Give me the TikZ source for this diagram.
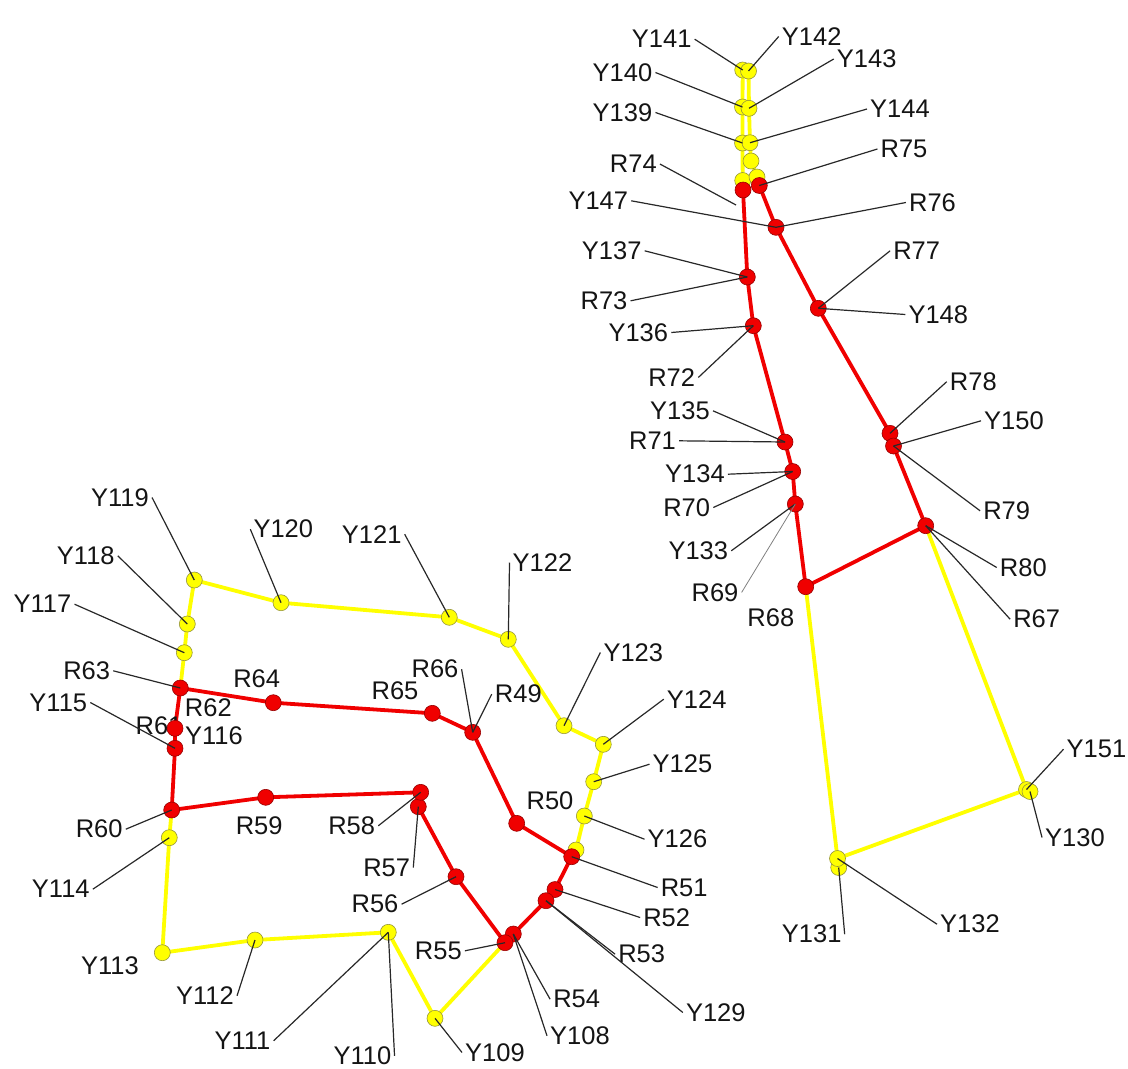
\documentclass[tikz,border=0pt]{standalone}
\usepackage{fontspec}
\setmainfont{Liberation Sans}
\pgfdeclarelayer{bg}
\pgfdeclarelayer{lab}
\pgfsetlayers{bg,lab,main}
\definecolor{ylw}{RGB}{255,255,0}
\definecolor{yout}{RGB}{150,150,60}
\definecolor{rd}{RGB}{240,0,0}
\definecolor{rout}{RGB}{150,0,0}
\definecolor{ldr}{RGB}{40,40,40}
\definecolor{txt}{RGB}{20,20,20}
\begin{document}
\begin{tikzpicture}[x=1pt,y=-1pt,
 ydot/.style={circle,fill=ylw,draw=yout,line width=0.6pt,minimum size=16pt,inner sep=0pt},
 rdot/.style={circle,fill=rd,draw=rout,line width=0.6pt,minimum size=16pt,inner sep=0pt},
 lbl/.style={font=\fontsize{25.5}{30}\selectfont,text=txt,inner sep=3pt},
 yl/.style={draw=ylw,line width=3.8pt,line join=round},
 rl/.style={draw=rd,line width=3.8pt,line join=round},
 lead/.style={draw=ldr,line width=1.2pt}]
\useasboundingbox (0,0) rectangle (1128,1069);
% ---------- yellow dots ----------
\node[ydot] (Y141) at (742.7,70) {};
\node[ydot] (Y142) at (748.5,71) {};
\node[ydot] (Y140) at (742.5,107) {};
\node[ydot] (Y143) at (749,108.3) {};
\node[ydot] (Y139) at (742.5,143) {};
\node[ydot] (Y144) at (750,142.7) {};
\node[ydot] (Ya) at (751,161) {};
\node[ydot] (Yb) at (742.7,180.5) {};
\node[ydot] (Yc) at (757,177) {};
\node[ydot] (Y151) at (1026.5,789.5) {};
\node[ydot] (Y130) at (1030,791.5) {};
\node[ydot] (Y131) at (838.7,867.5) {};
\node[ydot] (Y132) at (837.5,858.5) {};
\node[ydot] (Y119) at (194.3,580) {};
\node[ydot] (Y120) at (281,602.7) {};
\node[ydot] (Y121) at (449.3,617.3) {};
\node[ydot] (Y122) at (508.3,639.3) {};
\node[ydot] (Y123) at (564,725.7) {};
\node[ydot] (Y124) at (603.3,744.3) {};
\node[ydot] (Y125) at (593.7,781.7) {};
\node[ydot] (Y126) at (584.3,816) {};
\node[ydot] (Yd) at (576,850) {};
\node[ydot] (Y118) at (187.3,624) {};
\node[ydot] (Y117) at (184.3,652.7) {};
\node[ydot] (Y114) at (169.3,837.7) {};
\node[ydot] (Y113) at (162.3,952.7) {};
\node[ydot] (Y112) at (255,940) {};
\node[ydot] (Y110) at (388.3,932.3) {};
\node[ydot] (Y109) at (435,1018.3) {};
% ---------- red dots ----------
\node[rdot] (R74) at (743,190) {};
\node[rdot] (R75) at (759.3,185.5) {};
\node[rdot] (R76) at (776,227.3) {};
\node[rdot] (R73) at (747.3,277) {};
\node[rdot] (R77) at (818.3,308.3) {};
\node[rdot] (R72) at (753.3,325.7) {};
\node[rdot] (R71) at (785,442) {};
\node[rdot] (R70) at (792.7,471.5) {};
\node[rdot] (R69) at (795.3,504) {};
\node[rdot] (R68) at (805.7,586.7) {};
\node[rdot] (R78) at (890,433.3) {};
\node[rdot] (R79) at (893.5,446) {};
\node[rdot] (R80) at (925.7,525.7) {};
\node[rdot] (R63) at (180.3,688) {};
\node[rdot] (R64) at (273.3,702.7) {};
\node[rdot] (R65) at (432.3,713.3) {};
\node[rdot] (R66) at (472.7,732.3) {};
\node[rdot] (R50) at (516.7,823.3) {};
\node[rdot] (R51) at (571.7,856.7) {};
\node[rdot] (R52) at (555,889.5) {};
\node[rdot] (R53) at (546,900.7) {};
\node[rdot] (R54) at (513.3,934) {};
\node[rdot] (R55) at (505,942.7) {};
\node[rdot] (R56) at (456,876.7) {};
\node[rdot] (R57) at (418.3,806.7) {};
\node[rdot] (R58) at (420.7,792.3) {};
\node[rdot] (R59) at (265.7,797.3) {};
\node[rdot] (R60) at (171.7,810) {};
\node[rdot] (R61) at (175,728.3) {};
\node[rdot] (R62) at (175,748.3) {};
% coincident points
\coordinate (Y147) at (R76.center);
\coordinate (Y137) at (R73.center);
\coordinate (Y148) at (R77.center);
\coordinate (Y136) at (R72.center);
\coordinate (Y135) at (R71.center);
\coordinate (Y134) at (R70.center);
\coordinate (Y133) at (R69.center);
\coordinate (Y150) at (R79.center);
\coordinate (R67) at (R80.center);
\coordinate (R49) at (R66.center);
\coordinate (Y129) at (R53.center);
\coordinate (Y108) at (R54.center);
\coordinate (Y111) at (Y110.center);
\coordinate (Y115) at (R62.center);
\coordinate (R74end) at (736,205);
% ---------- lines ----------
\begin{pgfonlayer}{bg}
\draw[yl] (Y141.center) -- (Y140.center) -- (Y139.center) -- (Yb.center);
\draw[yl] (Y142.center) -- (Y143.center) -- (Y144.center) -- (Ya.center) -- (Yc.center);
\draw[rl] (R74.center) -- (R73.center) -- (R72.center) -- (R71.center) -- (R70.center) -- (R69.center) -- (R68.center) -- (R80.center) -- (R79.center) -- (R78.center) -- (R77.center) -- (R76.center) -- (R75.center);
\draw[yl] (R68.center) -- (Y132.center) -- (Y151.center) -- (R80.center);
\draw[yl] (R63.center) -- (Y117.center) -- (Y118.center) -- (Y119.center) -- (Y120.center) -- (Y121.center) -- (Y122.center) -- (Y123.center) -- (Y124.center) -- (Y125.center) -- (Y126.center) -- (Yd.center) -- (R51.center);
\draw[yl] (R60.center) -- (Y114.center) -- (Y113.center) -- (Y112.center) -- (Y110.center) -- (Y109.center) -- (R55.center);
\draw[rl] (R63.center) -- (R64.center) -- (R65.center) -- (R66.center) -- (R50.center) -- (R51.center) -- (R52.center) -- (R53.center) -- (R54.center) -- (R55.center) -- (R56.center) -- (R57.center) -- (R58.center) -- (R59.center) -- (R60.center) -- (R62.center) -- (R61.center) -- (R63.center);
\end{pgfonlayer}
% ---------- labels ----------
\begin{pgfonlayer}{lab}
\node[lbl] (lY141) at (661.7,39.2) {Y141};
\node[lbl] (lY142) at (811.7,36.5) {Y142};
\node[lbl] (lY140) at (622.5,72.5) {Y140};
\node[lbl] (lY143) at (866.7,59) {Y143};
\node[lbl] (lY139) at (622.5,112.5) {Y139};
\node[lbl] (lY144) at (900,109) {Y144};
\node[lbl] (lR74) at (633.3,164) {R74};
\node[lbl] (lR75) at (904,149) {R75};
\node[lbl] (lY147) at (598.3,200.8) {Y147};
\node[lbl] (lR76) at (932.5,202.5) {R76};
\node[lbl] (lY137) at (611.7,250.8) {Y137};
\node[lbl] (lR73) at (604,300.8) {R73};
\node[lbl] (lR77) at (916.7,250.8) {R77};
\node[lbl] (lY148) at (938.3,314.5) {Y148};
\node[lbl] (lY136) at (638.3,332.5) {Y136};
\node[lbl] (lR72) at (671.7,377.5) {R72};
\node[lbl] (lY135) at (680,410.8) {Y135};
\node[lbl] (lR71) at (652.5,440.8) {R71};
\node[lbl] (lY134) at (695,474.2) {Y134};
\node[lbl] (lR70) at (686.7,507.5) {R70};
\node[lbl] (lY133) at (698.3,550.8) {Y133};
\node[lbl] (lR69) at (715,592.5) {R69};
\node[lbl] (lR68) at (770.8,617.5) {R68};
\node[lbl] (lR78) at (973.3,381.7) {R78};
\node[lbl] (lY150) at (1014,420.8) {Y150};
\node[lbl] (lR79) at (1006.7,510.8) {R79};
\node[lbl] (lR80) at (1023.3,567.5) {R80};
\node[lbl] (lR67) at (1036.7,619.2) {R67};
\node[lbl] (lY151) at (1096.5,749.2) {Y151};
\node[lbl] (lY130) at (1075,837.5) {Y130};
\node[lbl] (lY131) at (811.7,934.2) {Y131};
\node[lbl] (lY132) at (970,924.2) {Y132};
\node[lbl] (lY119) at (120,497.5) {Y119};
\node[lbl] (lY120) at (283.3,529.2) {Y120};
\node[lbl] (lY118) at (85.8,555.8) {Y118};
\node[lbl] (lY117) at (42.5,604.2) {Y117};
\node[lbl] (lR63) at (86.7,670.8) {R63};
\node[lbl] (lR64) at (256.7,679.2) {R64};
\node[lbl] (lY115) at (58.3,702.5) {Y115};
\node[lbl] (lR62) at (208.3,707.5) {R62};
\node[lbl] (lR61) at (159,726) {R61};
\node[lbl] (lY116) at (214,735.5) {Y116};
\node[lbl] (lY121) at (371.7,534.2) {Y121};
\node[lbl] (lY122) at (542.5,562.5) {Y122};
\node[lbl] (lY123) at (633.3,652.5) {Y123};
\node[lbl] (lR66) at (435,669.2) {R66};
\node[lbl] (lR65) at (395,690.8) {R65};
\node[lbl] (lR49) at (518.3,694.2) {R49};
\node[lbl] (lY124) at (696.7,699.2) {Y124};
\node[lbl] (lY125) at (682.5,764.2) {Y125};
\node[lbl] (lR50) at (550,800.8) {R50};
\node[lbl] (lY126) at (677.5,839.2) {Y126};
\node[lbl] (lR58) at (351.7,825.8) {R58};
\node[lbl] (lR57) at (386.7,867.5) {R57};
\node[lbl] (lR56) at (375,904.2) {R56};
\node[lbl] (lR51) at (684.2,887.5) {R51};
\node[lbl] (lR52) at (666.7,917.5) {R52};
\node[lbl] (lR55) at (438.3,950.8) {R55};
\node[lbl] (lR53) at (641.7,954.2) {R53};
\node[lbl] (lR54) at (576.7,999.2) {R54};
\node[lbl] (lY129) at (715.8,1012.5) {Y129};
\node[lbl] (lY108) at (580,1035.8) {Y108};
\node[lbl] (lY109) at (495,1052.5) {Y109};
\node[lbl] (lY110) at (362.5,1055.8) {Y110};
\node[lbl] (lR60) at (99.2,829.2) {R60};
\node[lbl] (lR59) at (259.2,825.8) {R59};
\node[lbl] (lY114) at (60.8,889.2) {Y114};
\node[lbl] (lY113) at (110,965.8) {Y113};
\node[lbl] (lY112) at (205,995.8) {Y112};
\node[lbl] (lY111) at (242.5,1040.8) {Y111};
\end{pgfonlayer}
% ---------- leaders ----------
\draw[lead] (lY141.east) -- (Y141.center);
\draw[lead] (lY142.west) -- (Y142.center);
\draw[lead] (lY140.east) -- (Y140.center);
\draw[lead] (lY143.west) -- (Y143.center);
\draw[lead] (lY139.east) -- (Y139.center);
\draw[lead] (lY144.west) -- (Y144.center);
\draw[lead] (lR74.east) -- (R74end);
\draw[lead] (lR75.west) -- (R75.center);
\draw[lead] (lY147.east) -- (Y147);
\draw[lead] (lR76.west) -- (R76.center);
\draw[lead] (lY137.east) -- (Y137);
\draw[lead] (lR73.east) -- (R73.center);
\draw[lead] (lR77.west) -- (R77.center);
\draw[lead] (lY148.west) -- (Y148);
\draw[lead] (lY136.east) -- (Y136);
\draw[lead] (lR72.east) -- (R72.center);
\draw[lead] (lY135.east) -- (Y135);
\draw[lead] (lR71.east) -- (R71.center);
\draw[lead] (lY134.east) -- (Y134);
\draw[lead] (lR70.east) -- (R70.center);
\draw[lead] (lY133.east) -- (Y133);
\draw[lead,draw=gray,line width=0.8pt] (lR69.east) -- (R69.center);
\draw[lead] (lR78.west) -- (R78.center);
\draw[lead] (lY150.west) -- (Y150);
\draw[lead] (lR79.west) -- (R79.center);
\draw[lead] (lR80.west) -- (R80.center);
\draw[lead] (lR67.west) -- (R67);
\draw[lead] (lY151.west) -- (Y151.center);
\draw[lead] (lY130.west) -- (Y130.center);
\draw[lead] (lY131.east) -- (Y131.center);
\draw[lead] (lY132.west) -- (Y132.center);
\draw[lead] (lY119.east) -- (Y119.center);
\draw[lead] (lY120.west) -- (Y120.center);
\draw[lead] (lY118.east) -- (Y118.center);
\draw[lead] (lY117.east) -- (Y117.center);
\draw[lead] (lR63.east) -- (R63.center);
\draw[lead] (lY115.east) -- (Y115);
\draw[lead] (lY121.east) -- (Y121.center);
\draw[lead] (lY122.west) -- (Y122.center);
\draw[lead] (lR66.east) -- (R66.center);
\draw[lead] (lR49.west) -- (R49);
\draw[lead] (lY123.west) -- (Y123.center);
\draw[lead] (lY124.west) -- (Y124.center);
\draw[lead] (lY125.west) -- (Y125.center);
\draw[lead] (lY126.west) -- (Y126.center);
\draw[lead] (lR51.west) -- (R51.center);
\draw[lead] (lR52.west) -- (R52.center);
\draw[lead] (lR53.west) -- (R53.center);
\draw[lead] (lY129.west) -- (Y129);
\draw[lead] (lR54.west) -- (R54.center);
\draw[lead] (lY108.west) -- (Y108);
\draw[lead] (lY109.west) -- (Y109.center);
\draw[lead] (lY110.east) -- (Y110.center);
\draw[lead] (lY111.east) -- (Y111);
\draw[lead] (lR55.east) -- (R55.center);
\draw[lead] (lR56.east) -- (R56.center);
\draw[lead] (lR57.east) -- (R57.center);
\draw[lead] (lR58.east) -- (R58.center);
\draw[lead] (lR60.east) -- (R60.center);
\draw[lead] (lY114.east) -- (Y114.center);
\draw[lead] (lY112.east) -- (Y112.center);
\end{tikzpicture}
\end{document}
